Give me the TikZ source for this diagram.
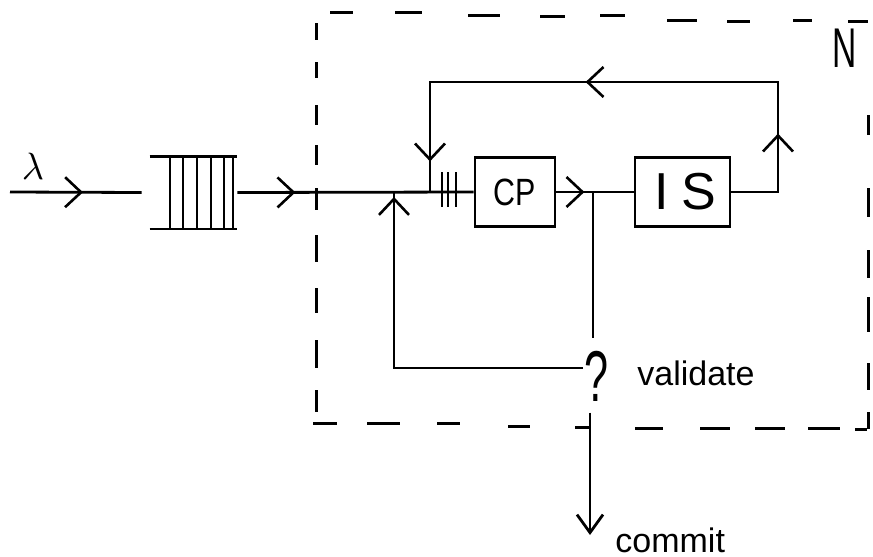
\documentclass[tikz,border=0pt]{standalone}
\usepackage{fontspec}
\setmainfont{Liberation Sans}
\usepackage{graphicx}
\usetikzlibrary{arrows.meta,decorations.markings,calc}
\tikzset{
  flow/.style={line width=1.4pt},
  chev/.style={postaction={decorate,decoration={markings,
      mark=at position #1 with {\arrow[line width=1.3pt]{Straight Barb[length=8pt,width=15pt]}}}}},
  blk/.style={draw,line width=1.4pt,inner sep=0pt},
  dsh/.style={line width=1.5pt},
  lbl/.style={inner sep=0pt},
  qline/.style={line width=1.2pt},
}
\begin{document}
\begin{tikzpicture}[x=0.5pt,y=-0.5pt]
\useasboundingbox (0,0) rectangle (873,557);

% blocks
\node[minimum width=47.5pt,minimum height=36pt,inner sep=0pt] (queue) at (189.5,192.5) {};
\node[blk,minimum width=40pt,minimum height=34.5pt] (cp) at (515,192)
  {\fontsize{19}{19}\selectfont\scalebox{0.8}[1]{CP}};
\node[blk,minimum width=47.5pt,minimum height=34.5pt] (is) at (682.5,192)
  {\fontsize{26}{26}\selectfont\hspace{3pt}{\rmfamily I}\hspace{6pt}S};
\node[lbl] (q) at (597,376) {\fontsize{36}{36}\selectfont\scalebox{0.6}[1]{?}};

% queue drawing
\draw[flow] ($(queue.north west)+(8,0)$) -- (queue.north east);
\draw[flow] ($(queue.south west)+(8,0)$) -- (queue.south east);
\foreach \vx in {170,183,197,211,224,233}
  \draw[qline] (\vx,156.5) -- (\vx,228.5);

% ticks before CP
\foreach \tx in {442,448,456}
  \draw[line width=0.9pt] (\tx,172) -- (\tx,207);

% coordinates
\coordinate (in) at (10,192);
\coordinate (rt) at (778,82);
\coordinate (lj) at (430,192);
\coordinate (j) at (593,192);
\coordinate (qv) at (583,368);
\coordinate (lb) at (394,192);
\coordinate (cm) at (590,535);

% connectors
\draw[flow,chev=36.5pt] (in) -- (queue.west);
\draw[flow,chev=29pt] (queue.east) -- (cp.west);
\draw[flow,chev=14pt] (cp.east) -- (is.west);
\draw[flow,chev=52.5pt,chev=174.5pt,chev=292pt] (is.east) -| (rt) -| (lj);
\draw[flow] (j) -- ($(j |- q.north)+(0,-12)$);
\draw[flow,chev=180pt] (qv) -| (lb);
\draw[flow,-{Straight Barb[length=9pt,width=13pt]}] ($(cm |- q.south)+(0,11)$) -- (cm);

% labels
\node[lbl] (lam) at (33,166) {\scalebox{1.9}{$\lambda$}};
\node[lbl,anchor=base west] (val) at (637,385) {\fontsize{17}{17}\selectfont validate};
\node[lbl,anchor=base west] (com) at (615,552) {\fontsize{17}{17}\selectfont commit};
\node[lbl] (N) at (845,48) {\fontsize{28}{28}\selectfont\scalebox{0.6}[1]{N}};

% dashed boundary N
\foreach \a/\b/\c in {330/353/12,395/422/12,468/500/15,540/565/16,600/625/15,667/697/20,727/750/21,793/812/20,848/868/21}
  \draw[dsh] (\a,\c) -- (\b,\c);
\foreach \a/\b in {23/40,62/78,105/125,145/165,188/210,235/262,288/313,340/368,390/412}
  \draw[dsh] (316,\a) -- (316,\b);
\foreach \a/\b/\c in {313/337/423,367/400/423,437/460/423,508/530/426,575/590/427,635/663/428,700/730/428,755/785/428,808/840/428,855/867/429}
  \draw[dsh] (\a,\c) -- (\b,\c);
\foreach \a/\b in {115/135,188/217,250/278,297/332,363/390,412/429}
  \draw[dsh] (868,\a) -- (868,\b);
\end{tikzpicture}
\end{document}
